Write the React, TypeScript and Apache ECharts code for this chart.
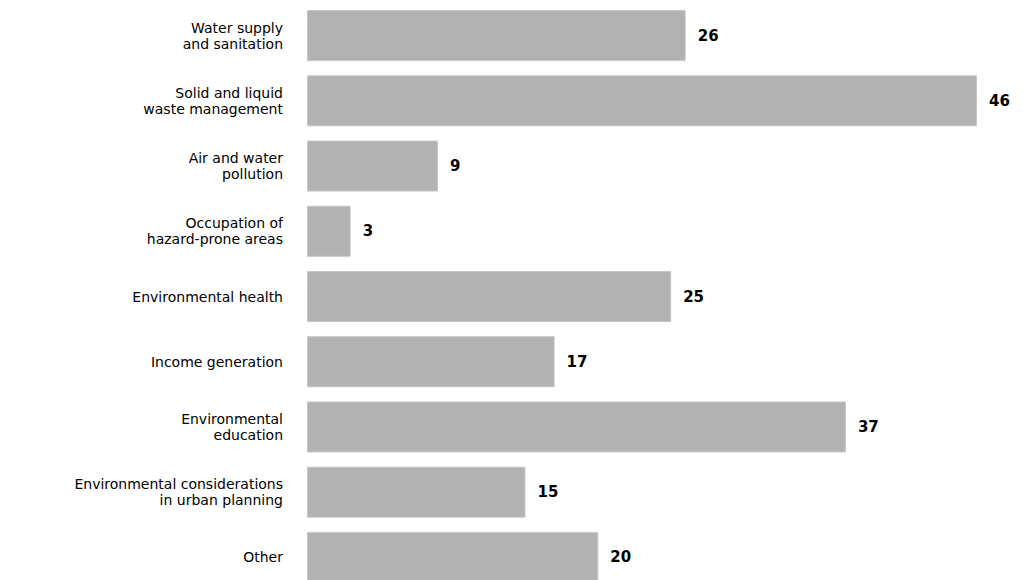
import React, { useEffect, useRef } from "react";
import * as echarts from "echarts";

const categories: string[] = [
  "Water supply\nand sanitation",
  "Solid and liquid\nwaste management",
  "Air and water\npollution",
  "Occupation of\nhazard-prone areas",
  "Environmental health",
  "Income generation",
  "Environmental\neducation",
  "Environmental considerations\nin urban planning",
  "Other",
];

const values: number[] = [26, 46, 9, 3, 25, 17, 37, 15, 20];

export default function App() {
  const ref = useRef<HTMLDivElement>(null);
  useEffect(() => {
    if (!ref.current) return;
    const chart = echarts.init(ref.current, undefined, { renderer: "svg" });
    chart.setOption({
      animation: false,
      backgroundColor: "#ffffff",
      grid: { left: 307, top: 3, width: 670, height: 587, containLabel: false },
      xAxis: {
        type: "value",
        min: 0,
        max: 46,
        show: false,
        splitLine: { show: false },
      },
      yAxis: {
        type: "category",
        data: categories,
        inverse: true,
        axisLine: { show: false },
        axisTick: { show: false },
        axisLabel: {
          margin: 24,
          color: "#000000",
          fontFamily: "DejaVu Sans",
          fontSize: 14,
          lineHeight: 16,
          align: "right",
        },
      },
      series: [
        {
          type: "bar",
          data: values,
          barWidth: 51,
          itemStyle: { color: "#b2b2b2", borderColor: "#c6c6c6", borderWidth: 1 },
          label: {
            show: true,
            position: "right",
            distance: 12,
            color: "#000000",
            fontFamily: "DejaVu Sans",
            fontWeight: "bold",
            fontSize: 15,
          },
        },
      ],
    });
    return () => chart.dispose();
  }, []);
  return (
    <div
      ref={ref}
      style={{ position: "fixed", left: 0, top: 0, width: 1023, height: 600 }}
    />
  );
}
